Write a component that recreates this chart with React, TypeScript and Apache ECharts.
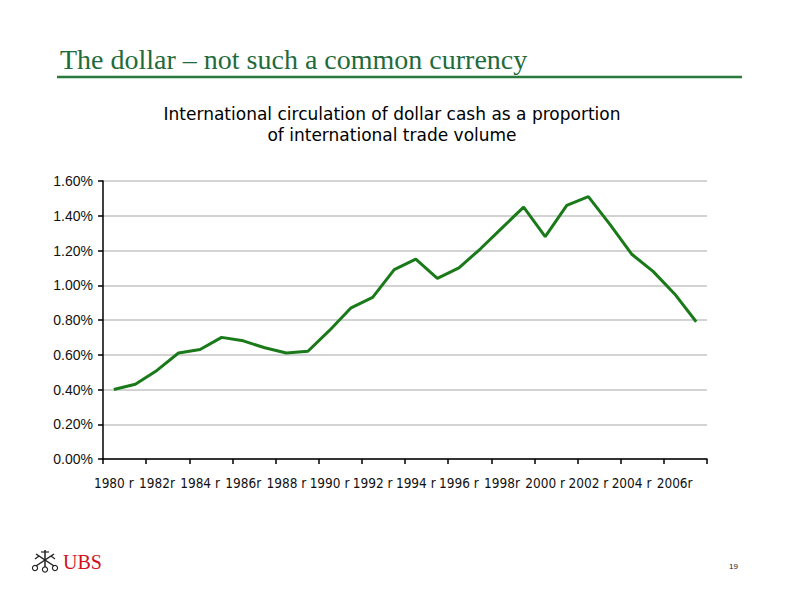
import React, { useEffect, useRef } from "react";
import * as echarts from "echarts";

const years = [
  "1980 r", "1981 r", "1982r", "1983 r", "1984 r", "1985 r", "1986r", "1987 r",
  "1988 r", "1989 r", "1990 r", "1991 r", "1992 r", "1993 r", "1994 r", "1995 r",
  "1996 r", "1997 r", "1998r", "1999 r", "2000 r", "2001 r", "2002 r", "2003 r",
  "2004 r", "2005 r", "2006r", "2007 r",
];
const shareValues = [
  0.40, 0.43, 0.51, 0.61, 0.63, 0.70, 0.68, 0.64, 0.61, 0.62, 0.74, 0.87, 0.93, 1.09,
  1.15, 1.04, 1.10, 1.21, 1.33, 1.45, 1.28, 1.46, 1.51, 1.35, 1.18, 1.08, 0.95, 0.79,
];
const titleText = "The dollar \u2013 not such a common currency";
const subtitleLines = [
  "International circulation of dollar cash as a proportion",
  "of international trade volume",
];

export default function App() {
  const ref = useRef<HTMLDivElement>(null);
  useEffect(() => {
    if (!ref.current) return;
    const chart = echarts.init(ref.current, null, { renderer: "svg" });
    const green = "#1f6b3c";
    chart.setOption({
      animation: false,
      backgroundColor: "#ffffff",
      grid: { left: 103, right: 85, top: 181, bottom: 135 },
      xAxis: {
        type: "category",
        data: years,
        boundaryGap: true,
        axisLine: { show: true, lineStyle: { color: "#000", width: 1.5 } },
        axisTick: { show: true, interval: 1, length: 5, lineStyle: { color: "#000", width: 1.5 } },
        axisLabel: {
          interval: 1,
          margin: 17,
          color: "#111",
          fontSize: 13.5,
          fontFamily: '"DejaVu Sans Condensed", "Liberation Sans Narrow", "Liberation Sans", sans-serif',
        },
        splitLine: { show: false },
      },
      yAxis: {
        type: "value",
        min: 0,
        max: 1.6,
        interval: 0.2,
        axisLine: { show: true, lineStyle: { color: "#000", width: 1.5 } },
        axisTick: { show: true, length: 5, lineStyle: { color: "#000", width: 1.5 } },
        axisLabel: {
          margin: 10,
          color: "#111",
          fontSize: 14,
          fontFamily: '"Liberation Sans", Arial, sans-serif',
          formatter: (v: number) => v.toFixed(2) + "%",
        },
        splitLine: { show: true, lineStyle: { color: "#c4c4c4", width: 1.5 } },
      },
      series: [
        {
          type: "line",
          data: shareValues,
          symbol: "none",
          lineStyle: { color: "#1a7a1a", width: 3 },
        },
      ],
      graphic: [
        {
          type: "text",
          left: 60,
          top: 45,
          style: {
            text: titleText,
            fill: green,
            fontSize: 28,
            fontFamily: '"Liberation Serif", "Times New Roman", serif',
          },
        },
        {
          type: "line",
          shape: { x1: 57, y1: 77, x2: 742, y2: 77 },
          style: { stroke: "#2a7a40", lineWidth: 2.5 },
        },
        {
          type: "text",
          x: 392,
          y: 103,
          style: {
            text: subtitleLines.join("\n"),
            align: "center",
            fill: "#000",
            fontSize: 17,
            lineHeight: 21,
            fontFamily: '"DejaVu Sans", Verdana, sans-serif',
          },
        },
        {
          type: "group",
          x: 45,
          y: 561,
          children: [
            { type: "line", shape: { x1: 0, y1: -11, x2: 0, y2: 6 }, style: { stroke: "#222", lineWidth: 1.5 } },
            { type: "line", shape: { x1: -9, y1: -7, x2: 9, y2: 5 }, style: { stroke: "#222", lineWidth: 1.5 } },
            { type: "line", shape: { x1: 9, y1: -7, x2: -9, y2: 5 }, style: { stroke: "#222", lineWidth: 1.5 } },
            { type: "line", shape: { x1: -4, y1: -9, x2: 4, y2: -9 }, style: { stroke: "#222", lineWidth: 1.2 } },
            { type: "line", shape: { x1: -10, y1: -2, x2: -6, y2: -5 }, style: { stroke: "#222", lineWidth: 1.2 } },
            { type: "line", shape: { x1: 10, y1: -2, x2: 6, y2: -5 }, style: { stroke: "#222", lineWidth: 1.2 } },
            { type: "circle", shape: { cx: 0, cy: 8.5, r: 2.6 }, style: { fill: "none", stroke: "#222", lineWidth: 1.2 } },
            { type: "circle", shape: { cx: -10, cy: 7, r: 2.6 }, style: { fill: "none", stroke: "#222", lineWidth: 1.2 } },
            { type: "circle", shape: { cx: 10, cy: 7, r: 2.6 }, style: { fill: "none", stroke: "#222", lineWidth: 1.2 } },
          ],
        },
        {
          type: "text",
          left: 63,
          top: 552,
          style: {
            text: "UBS",
            fill: "#d0121b",
            fontSize: 20,
            fontFamily: '"Liberation Serif", "Times New Roman", serif',
          },
        },
        {
          type: "text",
          left: 729,
          top: 562,
          style: {
            text: "19",
            fill: "#222",
            fontSize: 8,
            fontFamily: '"Liberation Sans", Arial, sans-serif',
          },
        },
      ],
    });
    return () => chart.dispose();
  }, []);
  return (
    <div
      ref={ref}
      style={{ position: "absolute", left: 0, top: 0, width: 792, height: 594 }}
    />
  );
}
